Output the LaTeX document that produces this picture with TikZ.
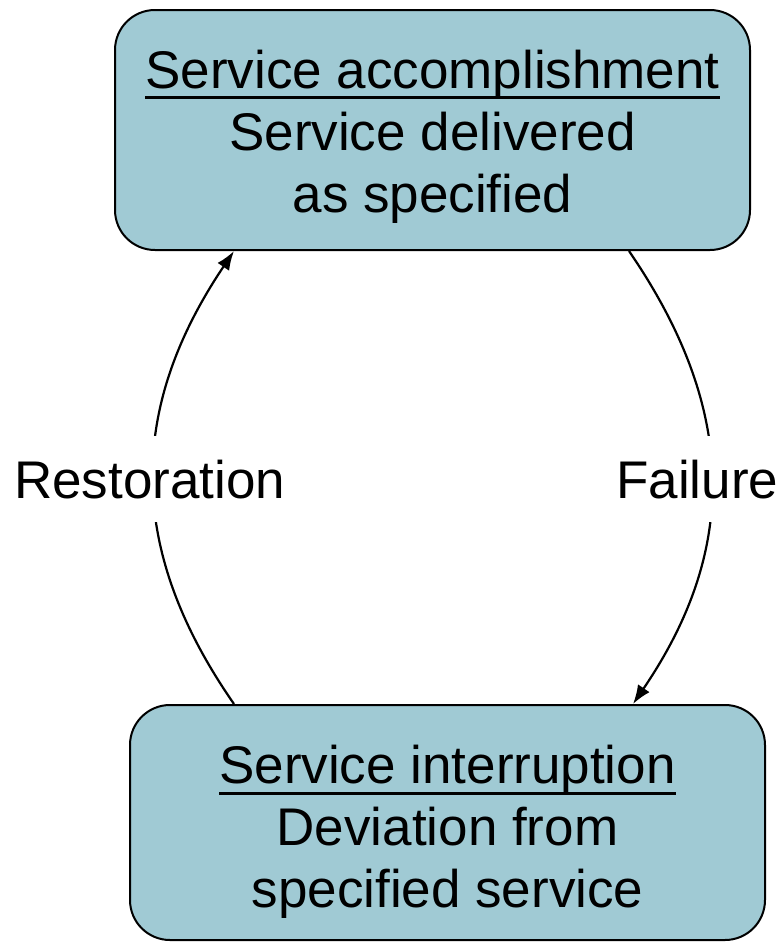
\documentclass[tikz,border=0pt]{standalone}
\usepackage{fontspec}
\setmainfont{Liberation Sans}
\usetikzlibrary{arrows.meta}

\definecolor{statefill}{RGB}{160,202,212}
\newcommand{\statetitle}[2]{\rule{0pt}{#1}\setbox0\hbox{#2}\rlap{\rule[-11pt]{\wd0}{3pt}}\box0}

\begin{document}
\begin{tikzpicture}[x=1pt,y=-1pt]
   \tikzstyle{every node}=[font=\fontsize{53}{62}\selectfont, align=center]
   \tikzstyle{state}=[draw, line width=2pt, fill=statefill, rounded corners=40pt, minimum width=635pt]
   \tikzstyle{trans}=[line width=2.2pt, -{Latex[length=19pt,width=14pt]}]
   \tikzstyle{translabel}=[fill=white, inner xsep=2pt, minimum height=86pt]

\useasboundingbox (0,0) rectangle (783,943);

\node[state, minimum height=240pt] (accomp) at (432.5,130)
    {\statetitle{51pt}{Service accomplishment}\\Service delivered\\as specified};
\node[state, minimum height=235pt] (interrupt) at (447.5,822.5)
    {\statetitle{57pt}{Service interruption}\\Deviation from\\specified service};

\draw[trans] ([xshift=-122pt]accomp.south east) .. controls (738,410) and (738,550) ..
    node[translabel, xshift=-14pt] (fail) {Failure} ([xshift=-133pt]interrupt.north east);
\draw[trans] ([xshift=105pt]interrupt.north west) .. controls (127,550) and (127,410) ..
    node[translabel, xshift=-4pt] (restore) {Restoration} ([xshift=120pt]accomp.south west);

\end{tikzpicture}
\end{document}
